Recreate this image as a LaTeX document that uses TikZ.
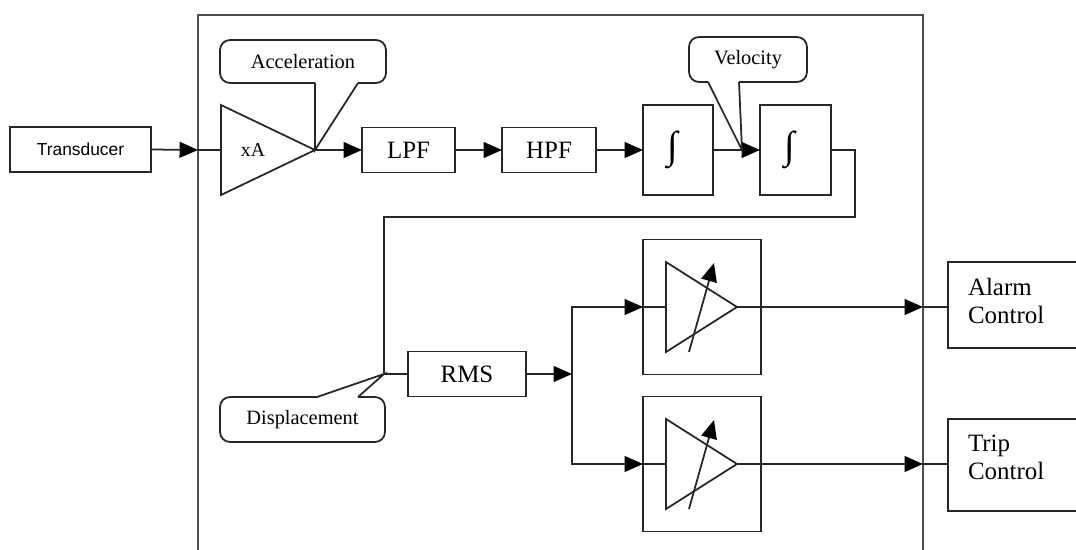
\documentclass[tikz,border=0pt]{standalone}
\usepackage{fontspec}
\setmainfont{Liberation Serif}
\setsansfont{Liberation Sans}
\usetikzlibrary{arrows.meta,calc}

\begin{document}
\begin{tikzpicture}[x=0.02cm,y=-0.02cm,
  line width=1pt, draw=black!85,
  every node/.style={inner sep=0pt, outer sep=0pt},
  blk/.style={draw, rectangle, font=\fontsize{14.2}{16}\selectfont},
  intblk/.style={blk, font=\fontsize{22}{24}\selectfont},
  arr/.style={-{Triangle[length=10.5pt,width=9pt,color=black]}},
  frameline/.style={line width=1.5pt, draw=black!70},
  calltext/.style={font=\fontsize{11.6}{13}\selectfont},
  bubble/.style={rounded corners=0.2cm},
  ctrltext/.style={anchor=west, align=left, font=\fontsize{14.2}{15.9}\selectfont},
]
\useasboundingbox (0,0) rectangle (1076,550);

% outer enclosure of the monitoring unit
\draw[frameline] (198,552) -- (198,15) -- (923,15) -- (923,552);

% input stage
\node[blk, font=\sffamily\fontsize{9.9}{12}\selectfont,
      minimum width=2.82cm, minimum height=0.9cm] (trans) at (80.5,149.5) {Transducer};
\coordinate (framein) at (198,150);
\coordinate (ampin)   at (221,150);
\coordinate (ampout)  at (315,150);
\draw[line join=miter] (221,105) -- (ampout) -- (221,195) -- cycle;
\node[font=\fontsize{11.2}{13}\selectfont] (gain) at (253,150) {xA};
\draw[arr] (trans.east) -- (framein);
\draw (framein) -- (ampin);

% filter and integration chain
\node[blk, minimum width=1.86cm, minimum height=0.9cm] (lpf)  at (408.5,150) {LPF};
\node[blk, minimum width=1.88cm, minimum height=0.9cm] (hpf)  at (549,150)   {HPF};
\node[intblk, minimum width=1.4cm,  minimum height=1.8cm] (int1) at (678,150)   {\raisebox{2.6pt}{∫}\hspace*{6pt}};
\node[intblk, minimum width=1.42cm, minimum height=1.8cm] (int2) at (795.5,150) {\raisebox{2.6pt}{∫}\hspace*{6pt}};
\coordinate (velpt) at (742,150);
\draw[arr] (ampout) -- (lpf.west);
\draw[arr] (lpf) -- (hpf);
\draw[arr] (hpf) -- (int1);
\draw[arr] (int1) -- (int2);

% displacement return path and RMS detector
\node[blk, minimum width=2.36cm, minimum height=0.9cm] (rms) at (467,374) {RMS};
\coordinate (fbturn)  at (855,217);
\coordinate (dcorner) at (384,374);
\coordinate (split)   at (572,374);
\draw (int2.east) -| (fbturn) -| (dcorner) -- (rms.west);
\draw[arr] (rms.east) -- (split);

% adjustable comparators
\node[draw, minimum width=2.36cm, minimum height=2.7cm] (cmp1) at (702,307) {};
\node[draw, minimum width=2.36cm, minimum height=2.7cm] (cmp2) at (702,464) {};
\foreach \c in {cmp1,cmp2}{
  \begin{scope}[shift={(\c.center)}]
    \coordinate (\c-in)  at (-36,0);
    \coordinate (\c-out) at (35,0);
    \coordinate (\c-tip) at (221,0);
    \draw[line join=miter] (-36,-45) -- (\c-out) -- (-36,45) -- cycle;
    \draw[arr] (-13,45) -- (12,-44);
  \end{scope}
  \draw[arr] (split) |- (\c.west);
  \draw (\c.west) -- (\c-in);
}

% control outputs
\node[draw, minimum width=3.04cm, minimum height=1.72cm] (alarm) at (1024,305) {};
\node[draw, minimum width=3.04cm, minimum height=1.84cm] (trip)  at (1024,465) {};
\node[ctrltext] (alarmtxt) at (968,301) {Alarm\\Control};
\node[ctrltext] (triptxt)  at (968,457) {Trip\\Control};
\draw[arr] (cmp1-out) -- (cmp1-tip);
\draw (cmp1-tip) -- (cmp1-tip -| alarm.west);
\draw[arr] (cmp2-out) -- (cmp2-tip);
\draw (cmp2-tip) -- (cmp2-tip -| trip.west);

% signal labels
\node[calltext, minimum width=3.32cm, minimum height=0.86cm] (acc) at (303,61.5) {Acceleration};
\draw[bubble] ($(acc.south west)+(95,0)$) -- (acc.south west) -- (acc.north west)
  -- (acc.north east) -- (acc.south east) -- ($(acc.south west)+(138,0)$);
\draw[line join=miter] ($(acc.south west)+(95,0)$) -- (ampout) -- ($(acc.south west)+(138,0)$);

\node[calltext, minimum width=2.36cm, minimum height=0.9cm] (vel) at (748,59.5) {Velocity};
\draw[bubble] ($(vel.south west)+(19,0)$) -- (vel.south west) -- (vel.north west)
  -- (vel.north east) -- (vel.south east) -- ($(vel.south west)+(50,0)$);
\draw[line join=miter] ($(vel.south west)+(19,0)$) -- (velpt) -- ($(vel.south west)+(50,0)$);

\node[calltext, minimum width=3.3cm, minimum height=0.9cm] (disp) at (302.5,419.5) {Displacement};
\draw[bubble] ($(disp.north west)+(97,0)$) -- (disp.north west) -- (disp.south west)
  -- (disp.south east) -- (disp.north east) -- ($(disp.north west)+(138,0)$);
\draw[line join=miter] ($(disp.north west)+(97,0)$) -- (dcorner) -- ($(disp.north west)+(138,0)$);
\end{tikzpicture}
\end{document}
